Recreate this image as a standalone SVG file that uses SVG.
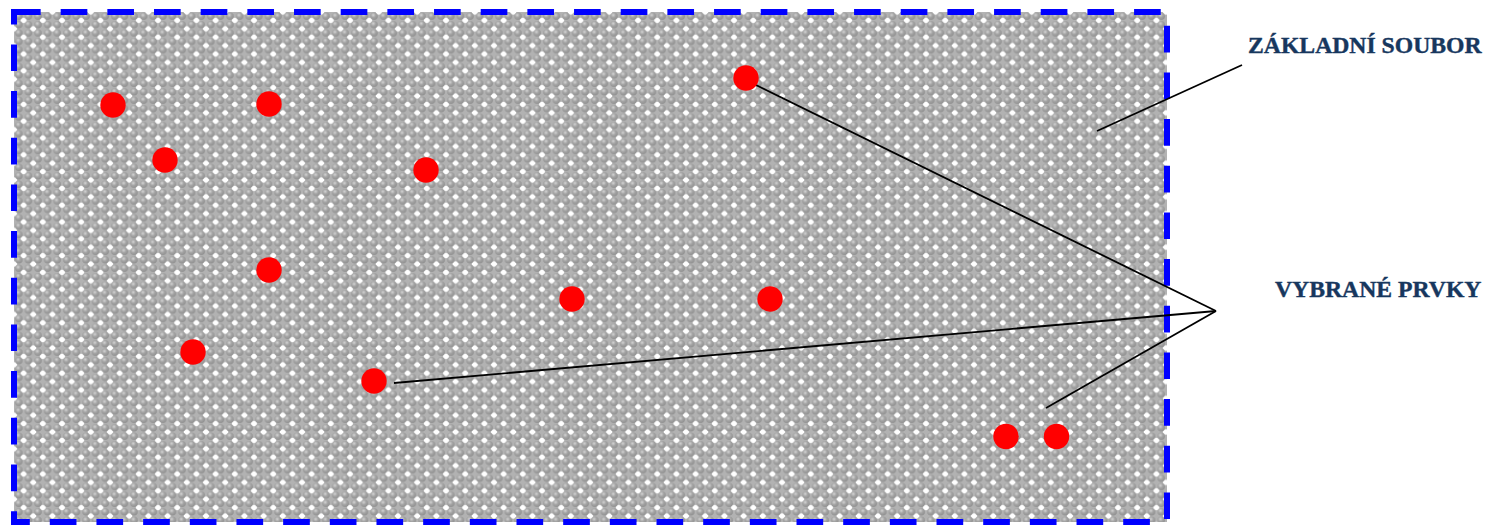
<svg xmlns="http://www.w3.org/2000/svg" width="1491" height="525" viewBox="0 0 1491 525">
<style>
.dot{fill:#ff0000}
.ln{stroke:#000;stroke-width:1.8;fill:none}
.lbl{font-family:"Liberation Serif","Times New Roman",serif;font-weight:bold;font-size:23.7px;fill:#17375e;stroke:#17375e;stroke-width:0.4}
</style>
<defs>
<radialGradient id="sph" cx="0.4" cy="0.35" r="0.65">
<stop offset="0" stop-color="#d4d4d4"/>
<stop offset="0.5" stop-color="#a4a4a4"/>
<stop offset="1" stop-color="#909090"/>
</radialGradient>
<pattern id="tex" patternUnits="userSpaceOnUse" x="14" y="12" width="19.2" height="16.8">
<rect width="19.2" height="16.8" fill="#b2b2b2"/>
<rect x="-3" y="-2.6" width="6" height="5.2" fill="#ffffff"/>
<rect x="16.2" y="-2.6" width="6" height="5.2" fill="#ffffff"/>
<rect x="-3" y="14.2" width="6" height="5.2" fill="#ffffff"/>
<rect x="16.2" y="14.2" width="6" height="5.2" fill="#ffffff"/>
<rect x="6.6" y="5.8" width="6" height="5.2" fill="#ffffff"/>
<circle cx="4.8" cy="4.2" r="3.7" fill="url(#sph)"/>
<circle cx="14.4" cy="4.2" r="3.7" fill="url(#sph)"/>
<circle cx="4.8" cy="12.6" r="3.7" fill="url(#sph)"/>
<circle cx="14.4" cy="12.6" r="3.7" fill="url(#sph)"/>
</pattern>
</defs>
<g id="frame">
<rect x="14" y="12" width="1153" height="510" fill="url(#tex)"/>
<rect x="14" y="12" width="1153" height="510" fill="none" stroke="#0000ff" stroke-width="6" stroke-dasharray="26.67 20"/>
</g>
<g id="connectors">
<line class="ln" x1="756" y1="85" x2="1216" y2="311"/>
<line class="ln" x1="394" y1="383" x2="1216" y2="311"/>
<line class="ln" x1="1046" y1="408" x2="1216" y2="311"/>
<line class="ln" x1="1097" y1="131" x2="1242" y2="65"/>
</g>
<g id="dots">
<circle class="dot" cx="113" cy="105" r="12.7"/>
<circle class="dot" cx="269" cy="104" r="12.7"/>
<circle class="dot" cx="165" cy="160" r="12.7"/>
<circle class="dot" cx="426" cy="170" r="12.7"/>
<circle class="dot" cx="269" cy="270" r="12.7"/>
<circle class="dot" cx="572" cy="299" r="12.7"/>
<circle class="dot" cx="770" cy="299" r="12.7"/>
<circle class="dot" cx="193" cy="352" r="12.7"/>
<circle class="dot" cx="374" cy="381" r="12.7"/>
<circle class="dot" cx="746" cy="78" r="12.7"/>
<circle class="dot" cx="1006" cy="436.5" r="12.7"/>
<circle class="dot" cx="1056.5" cy="436.5" r="12.7"/>
</g>
<g id="label-zakladni">
<text class="lbl" x="1248" y="53">ZÁKLADNÍ SOUBOR</text>
</g>
<g id="label-vybrane">
<text class="lbl" x="1275" y="297">VYBRANÉ PRVKY</text>
</g>
</svg>
